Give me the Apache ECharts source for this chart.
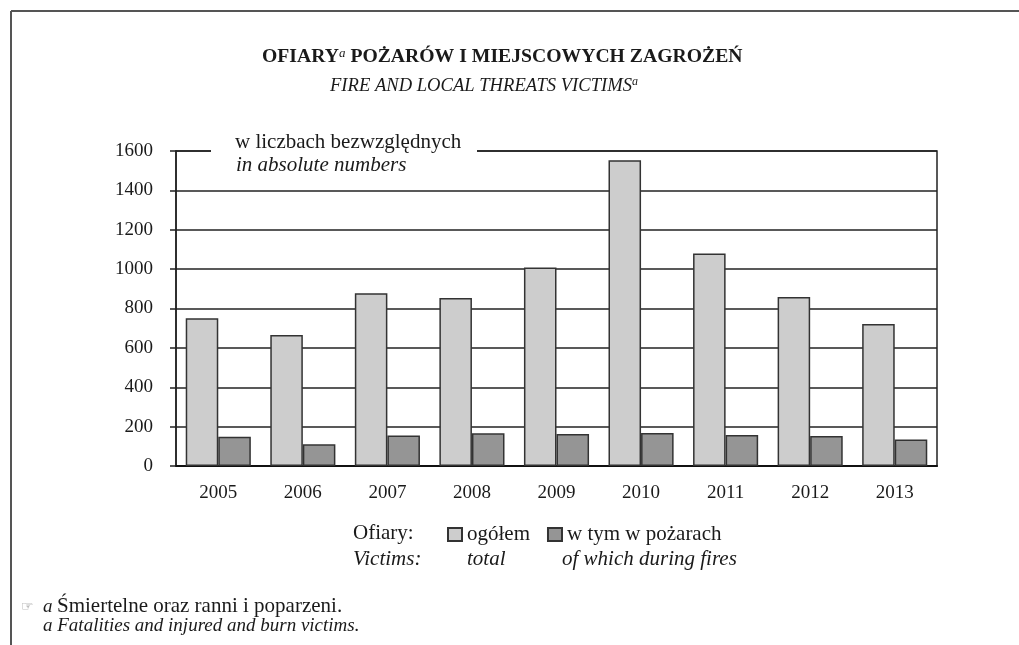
<!DOCTYPE html>
<html>
<head>
<meta charset="utf-8">
<script src="https://cdn.jsdelivr.net/npm/echarts@6/dist/echarts.min.js"></script>
<style>
html,body{margin:0;padding:0;background:#fff;}
#c{width:1019px;height:645px;}
</style>
</head>
<body>
<div id="c"></div>
<script>
const years = ['2005','2006','2007','2008','2009','2010','2011','2012','2013'];
const totalVictims = [750, 666, 877, 853, 1008, 1553, 1080, 858, 721];
const fireVictims = [149, 110, 155, 166, 162, 167, 158, 152, 135];
const yTicks = {min: 0, max: 1600, interval: 200};
const seriesNames = ['ogółem', 'w tym w pożarach'];

const SERIF = '"Liberation Serif", "DejaVu Serif", serif';
const chart = echarts.init(document.getElementById('c'), null, {renderer: 'canvas'});

const option = {
  backgroundColor: '#ffffff',
  animation: false,
  title: [
    {
      text: 'OFIARY{sup|a} POŻARÓW I MIEJSCOWYCH ZAGROŻEŃ',
      left: 262, top: 47, padding: 0,
      textStyle: {
        fontFamily: SERIF, fontSize: 19.7, fontWeight: 'bold', color: '#1a1a1a', lineHeight: 20,
        rich: {
          sup: {fontFamily: SERIF, fontSize: 13, fontStyle: 'italic', fontWeight: 'normal', color: '#1a1a1a', verticalAlign: 'top', lineHeight: 20}
        }
      }
    },
    {
      text: 'FIRE AND LOCAL THREATS VICTIMS{sup|a}',
      left: 330, top: 76, padding: 0,
      textStyle: {
        fontFamily: SERIF, fontSize: 18.6, fontStyle: 'italic', fontWeight: 'normal', color: '#1a1a1a', lineHeight: 20,
        rich: {
          sup: {fontFamily: SERIF, fontSize: 12, fontStyle: 'italic', color: '#1a1a1a', verticalAlign: 'top', lineHeight: 20}
        }
      }
    }
  ],
  legend: {
    data: seriesNames,
    left: 447, top: 524, padding: 0,
    icon: 'rect',
    itemWidth: 14, itemHeight: 13, itemGap: 17,
    selectedMode: false,
    textStyle: {fontFamily: SERIF, fontSize: 21, color: '#1a1a1a', padding: [0,0,0,0]}
  },
  grid: {
    left: 176, right: 82, top: 151, bottom: 179,
    show: true, borderColor: '#222', borderWidth: 1.5, backgroundColor: 'transparent',
    containLabel: false
  },
  xAxis: {
    type: 'category',
    data: years,
    axisLine: {show: true, lineStyle: {color: '#111', width: 2}},
    axisTick: {show: false},
    axisLabel: {fontFamily: SERIF, fontSize: 19, color: '#1a1a1a', margin: 18}
  },
  yAxis: {
    type: 'value',
    min: yTicks.min, max: yTicks.max, interval: yTicks.interval,
    axisLine: {show: true, lineStyle: {color: '#222', width: 1.5}},
    axisTick: {show: true, inside: false, length: 6, lineStyle: {color: '#222', width: 1.5}},
    splitLine: {show: true, lineStyle: {color: '#222', width: 1.5}},
    axisLabel: {fontFamily: SERIF, fontSize: 19, color: '#1a1a1a', margin: 23, formatter: v => String(v)}
  },
  series: [
    {
      name: seriesNames[0], type: 'bar', data: totalVictims,
      barGap: '0%', barCategoryGap: '23%',
      itemStyle: {color: '#cdcdcd', borderColor: '#333', borderWidth: 1.5}
    },
    {
      name: seriesNames[1], type: 'bar', data: fireVictims,
      barGap: '0%', barCategoryGap: '23%',
      itemStyle: {color: '#959595', borderColor: '#333', borderWidth: 1.5}
    }
  ],
  graphic: [
    // frame
    {type: 'line', shape: {x1: 11, y1: 11, x2: 1019, y2: 11}, style: {stroke: '#555', lineWidth: 2}, z: 100},
    {type: 'line', shape: {x1: 11, y1: 11, x2: 11, y2: 645}, style: {stroke: '#555', lineWidth: 2}, z: 100},
    // unit label box covering top line
    {type: 'rect', shape: {x: 211, y: 145, width: 266, height: 12}, style: {fill: '#fff'}, z: 100},
    {type: 'text', left: 235, top: 132, z: 101,
      style: {text: 'w liczbach bezwzględnych', font: '21px ' + SERIF, fill: '#1a1a1a'}},
    {type: 'text', left: 236, top: 155, z: 101,
      style: {text: 'in absolute numbers', font: 'italic 21px ' + SERIF, fill: '#1a1a1a'}},
    // legend labels
    {type: 'text', left: 353, top: 523, z: 101,
      style: {text: 'Ofiary:', font: '21px ' + SERIF, fill: '#1a1a1a'}},
    {type: 'text', left: 353, top: 549, z: 101,
      style: {text: 'Victims:', font: 'italic 21px ' + SERIF, fill: '#1a1a1a'}},
    {type: 'text', left: 467, top: 549, z: 101,
      style: {text: 'total', font: 'italic 21px ' + SERIF, fill: '#1a1a1a'}},
    {type: 'text', left: 562, top: 549, z: 101,
      style: {text: 'of which during fires', font: 'italic 21px ' + SERIF, fill: '#1a1a1a'}},
    // footnote
    {type: 'text', left: 21, top: 600, z: 101,
      style: {text: '☞', font: '14px "DejaVu Sans"', fill: '#888'}},
    {type: 'text', left: 43, top: 597, z: 101,
      style: {text: 'a', font: 'italic 19px ' + SERIF, fill: '#1a1a1a'}},
    {type: 'text', left: 57, top: 596, z: 101,
      style: {text: 'Śmiertelne oraz ranni i poparzeni.', font: '21px ' + SERIF, fill: '#1a1a1a'}},
    {type: 'text', left: 43, top: 616, z: 101,
      style: {text: 'a Fatalities and injured and burn victims.', font: 'italic 19px ' + SERIF, fill: '#1a1a1a'}}
  ]
};
chart.setOption(option);
</script>
</body>
</html>
